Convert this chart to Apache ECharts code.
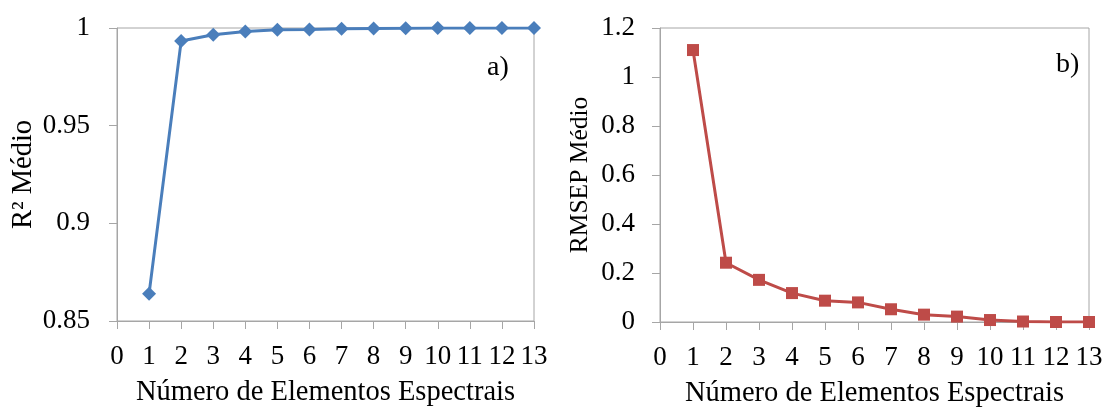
<!DOCTYPE html>
<html>
<head>
<meta charset="utf-8">
<script src="https://cdn.jsdelivr.net/npm/echarts@6/dist/echarts.min.js"></script>
<style>
html,body{margin:0;padding:0;background:#fff;}
#chart{width:1105px;height:408px;}
</style>
</head>
<body>
<div id="chart"></div>
<script>
const elementos = [1,2,3,4,5,6,7,8,9,10,11,12,13];
const r2Medio = [0.864,0.9933,0.9965,0.9982,0.9991,0.9992,0.9996,0.9998,0.9999,1.0,1.0,1.0,1.0];
const rmsepMedio = [1.11,0.242,0.172,0.118,0.087,0.080,0.052,0.030,0.022,0.008,0.002,0.0,0.0];
const xTitle = 'Número de Elementos Espectrais';
const yTitleA = 'R² Médio';
const yTitleB = 'RMSEP Médio';

const FONT = '"Liberation Serif", "Times New Roman", serif';
const axisColor = '#a6a6a6';
const txt = {fontFamily: FONT, fontSize: 27, color: '#000'};

function xAxis(gi){
  return {
    gridIndex: gi, type: 'value', min: 0, max: 13, interval: 1,
    name: xTitle, nameLocation: 'middle', nameGap: 57,
    nameTextStyle: Object.assign({}, txt, {fontSize: 28.5}),
    axisLine: {lineStyle: {color: axisColor, width: 1}},
    axisTick: {show: true, length: 8, lineStyle: {color: axisColor}},
    axisLabel: Object.assign({}, txt, {margin: 22}),
    splitLine: {show: false}
  };
}
const chart = echarts.init(document.getElementById('chart'));
chart.setOption({
  animation: false,
  grid: [
    {left: 117, right: 571, top: 28, bottom: 87, show: true, borderColor: axisColor, borderWidth: 1,
     containLabel: false, outerBoundsMode: 'none'},
    {left: 660, right: 16, top: 28, bottom: 86, show: true, borderColor: axisColor, borderWidth: 1,
     containLabel: false, outerBoundsMode: 'none'}
  ],
  xAxis: [xAxis(0), xAxis(1)],
  yAxis: [
    {gridIndex: 0, type: 'value', min: 0.85, max: 1, interval: 0.05,
     name: yTitleA, nameLocation: 'middle', nameGap: 79,
     nameTextStyle: Object.assign({}, txt, {fontSize: 28.5}),
     axisLine: {show: true, lineStyle: {color: axisColor}},
     axisTick: {show: true, length: 8, lineStyle: {color: axisColor}},
     axisLabel: Object.assign({}, txt, {margin: 27, formatter: v => String(+v.toFixed(2))}),
     splitLine: {show: false}},
    {gridIndex: 1, type: 'value', min: 0, max: 1.2, interval: 0.2,
     name: yTitleB, nameLocation: 'middle', nameGap: 67,
     nameTextStyle: Object.assign({}, txt, {fontSize: 25.5}),
     axisLine: {show: true, lineStyle: {color: axisColor}},
     axisTick: {show: true, length: 8, lineStyle: {color: axisColor}},
     axisLabel: Object.assign({}, txt, {margin: 25, formatter: v => String(+v.toFixed(1))}),
     splitLine: {show: false}}
  ],
  series: [
    {type: 'line', xAxisIndex: 0, yAxisIndex: 0,
     data: elementos.map((x, i) => [x, r2Medio[i]]),
     symbol: 'diamond', symbolSize: 14, showAllSymbol: true,
     lineStyle: {color: '#4a7ebb', width: 3},
     itemStyle: {color: '#4a7ebb'}},
    {type: 'line', xAxisIndex: 1, yAxisIndex: 1,
     data: elementos.map((x, i) => [x, rmsepMedio[i]]),
     symbol: 'rect', symbolSize: 12, showAllSymbol: true,
     lineStyle: {color: '#be4b48', width: 3},
     itemStyle: {color: '#be4b48'}}
  ],
  graphic: [
    {type: 'text', left: 487, top: 54, style: {text: 'a)', font: '28px ' + FONT, fill: '#000'}},
    {type: 'text', left: 1056, top: 51, style: {text: 'b)', font: '28px ' + FONT, fill: '#000'}}
  ]
});
</script>
</body>
</html>
